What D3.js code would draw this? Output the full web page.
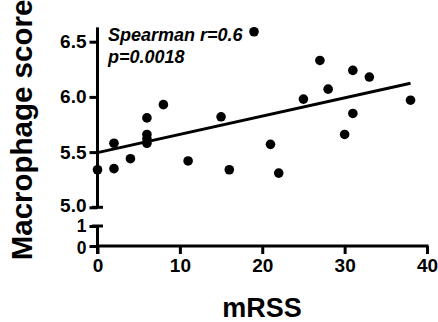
<!DOCTYPE html>
<html>
<head>
<meta charset="utf-8">
<script src="https://cdn.jsdelivr.net/npm/d3@7"></script>
<style>
  body { margin: 0; background: #fff; }
  svg text { font-family: "Liberation Sans", Arial, Helvetica, sans-serif; font-weight: bold; }
</style>
</head>
<body>
<svg id="chart" width="438" height="322"></svg>
<script>
// data
const mrss  = [0, 2, 2, 4, 6, 6, 6, 6, 8, 11, 15, 16, 19, 21, 22, 25, 27, 28, 30, 31, 31, 33, 38];
const score = [5.34, 5.58, 5.35, 5.44, 5.81, 5.66, 5.62, 5.58, 5.93, 5.42, 5.82, 5.34, 6.59, 5.57, 5.31, 5.98, 6.33, 6.07, 5.66, 6.24, 5.85, 6.18, 5.97];
const fitX = [0, 38];
const fitY = [5.495, 6.123];
const xTicks = [0, 10, 20, 30, 40];
const yTopTicks = [5.0, 5.5, 6.0, 6.5];
const yBotTicks = [0, 1];
const notes = ["Spearman r=0.6", "p=0.0018"];

const svg = d3.select("#chart");
const axisX0 = 97.5;

const x = d3.scaleLinear().domain([0, 40]).range([axisX0, 427]);
const yTop = d3.scaleLinear().domain([5.0, 6.5]).range([207.3, 41.7]);
const yBot = d3.scaleLinear().domain([0, 1]).range([246, 226]);

const sw = 3;
const tickFont = 19;

// x axis
const gx = svg.append("g")
    .attr("transform", "translate(0," + yBot(0) + ")")
    .call(d3.axisBottom(x).tickValues(xTicks).tickSize(8).tickPadding(5).tickFormat(d3.format("d")));
gx.select(".domain").remove();
gx.selectAll("line").attr("stroke", "#000").attr("stroke-width", sw);
gx.selectAll("text").attr("font-size", tickFont).attr("fill", "#000");
svg.append("line")
    .attr("x1", x(0) - 1.5).attr("x2", x(40) + 1.5)
    .attr("y1", yBot(0)).attr("y2", yBot(0))
    .attr("stroke", "#000").attr("stroke-width", sw);

// y axis, top part
const gyt = svg.append("g")
    .attr("transform", "translate(" + axisX0 + ",0)")
    .call(d3.axisLeft(yTop).tickValues(yTopTicks).tickSize(8).tickPadding(3).tickFormat(d3.format(".1f")));
gyt.select(".domain").remove();
gyt.selectAll("line").attr("stroke", "#000").attr("stroke-width", sw);
gyt.selectAll("text").attr("font-size", tickFont).attr("fill", "#000");
// lift the 5.0 label a touch so it clears the "1" below
gyt.selectAll(".tick").filter(d => d === 5.0).select("text").attr("y", -2);
svg.append("line")
    .attr("x1", axisX0).attr("x2", axisX0)
    .attr("y1", yTop(6.63)).attr("y2", yTop(5.0))
    .attr("stroke", "#000").attr("stroke-width", sw);
// end cap at 5.0
svg.append("line")
    .attr("x1", axisX0 - 5.5).attr("x2", axisX0 + 5.5)
    .attr("y1", yTop(5.0)).attr("y2", yTop(5.0))
    .attr("stroke", "#000").attr("stroke-width", sw);

// y axis, bottom part (tight spacing, slightly smaller labels)
const gyb = svg.append("g")
    .attr("transform", "translate(" + axisX0 + ",0)")
    .call(d3.axisLeft(yBot).tickValues(yBotTicks).tickSize(8).tickPadding(3).tickFormat(d3.format("d")));
gyb.select(".domain").remove();
gyb.selectAll("line").attr("stroke", "#000").attr("stroke-width", sw);
gyb.selectAll("text").attr("font-size", 17.5).attr("fill", "#000");
gyb.selectAll(".tick").filter(d => d === 0).select("text").attr("y", 1.5);
svg.append("line")
    .attr("x1", axisX0).attr("x2", axisX0)
    .attr("y1", yBot(1)).attr("y2", yBot(0) + 8)
    .attr("stroke", "#000").attr("stroke-width", sw);
svg.append("line")
    .attr("x1", axisX0 - 5.5).attr("x2", axisX0 + 5.5)
    .attr("y1", yBot(1)).attr("y2", yBot(1))
    .attr("stroke", "#000").attr("stroke-width", sw);

// fit line
svg.append("line")
    .attr("x1", x(fitX[0])).attr("y1", yTop(fitY[0]))
    .attr("x2", x(fitX[1])).attr("y2", yTop(fitY[1]))
    .attr("stroke", "#000").attr("stroke-width", sw);

// points
svg.append("g")
    .selectAll("circle")
    .data(mrss.map((d, i) => [d, score[i]]))
    .join("circle")
    .attr("cx", d => x(d[0]))
    .attr("cy", d => yTop(d[1]))
    .attr("r", 4.8)
    .attr("fill", "#000");

// annotation
svg.append("g")
    .selectAll("text")
    .data(notes)
    .join("text")
    .attr("x", 108)
    .attr("y", (d, i) => 41 + i * 21.5)
    .attr("font-size", 18)
    .attr("font-style", "italic")
    .text(d => d);

// titles
svg.append("text")
    .attr("transform", "translate(32,130) rotate(-90)")
    .attr("text-anchor", "middle")
    .attr("font-size", 29.5)
    .text("Macrophage score");

svg.append("text")
    .attr("x", 262)
    .attr("y", 317)
    .attr("text-anchor", "middle")
    .attr("font-size", 27)
    .text("mRSS");
</script>
</body>
</html>
